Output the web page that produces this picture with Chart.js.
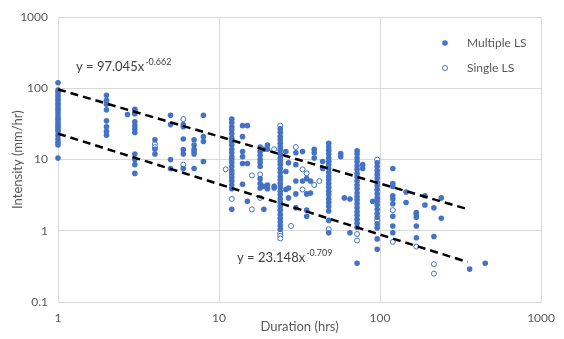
<!DOCTYPE html>
<html>
<head>
<meta charset="utf-8">
<script src="https://cdn.jsdelivr.net/npm/chart.js@4.4.0/dist/chart.umd.min.js"></script>
<style>
  html, body { margin: 0; padding: 0; background: #fff; }
  #wrap { width: 564px; height: 339px; }
</style>
</head>
<body>
<div id="wrap"><canvas id="scatter-chartcanvas" width="564" height="339"></canvas></div>
<script>
// durations (hrs) and the intensities (mm/hr) read at each one
var multiDurations = [1, 2, 2.7, 3, 4, 5, 6, 7, 8, 12, 14, 15, 18, 19, 20, 22, 24, 26, 27, 30, 33, 35, 37, 39, 44, 48, 57, 60, 65, 72, 78, 90, 96, 120, 145, 168, 190, 216, 240, 360, 450];
var multiIntensity = [
    [120, 95, 88, 80, 74, 68, 62, 57, 52, 48, 44, 40, 37, 34, 31, 29, 27, 25, 22, 19.5, 17.5, 16, 10.5],
    [80, 68, 60, 50, 35, 29, 25, 22],
    [43],
    [51, 48, 44, 34, 30, 27, 24, 12, 10, 8.5, 6.4],
    [19, 14, 12],
    [42, 31, 10, 7.5],
    [31, 29, 19.5, 13.8, 12, 7.5],
    [19, 16, 14, 13, 12, 7.5],
    [42, 21, 18, 9.4],
    [37, 33, 29, 26, 23, 20, 18, 16, 14, 12.5, 11, 10, 9, 8, 7, 6.3, 5.6, 5, 4.4, 3.9, 2.0],
    [30, 21, 13, 11, 8.8, 4.5],
    [30, 8.8, 2.6],
    [15, 13, 11.5, 10, 9, 8, 5.4, 4.6, 4.0],
    [14, 4.2, 2.0],
    [16, 14, 4.4, 3.9],
    [4.2, 4.0],
    [27, 24, 21, 19, 17, 15, 13.5, 12, 10.5, 9.5, 8.5, 7.5, 6.6, 5.8, 5.2, 4.6, 4.1, 3.6, 3.2, 2.8, 2.5, 2.2, 1.95, 1.7, 1.5, 1.33, 1.18, 1.05],
    [13, 6.8, 3.8],
    [9, 4.0, 2.9],
    [12.5, 8.5, 5.0, 3.3, 2.1],
    [13, 5.0],
    [5.4, 3.3, 1.95, 1.6],
    [5.0, 3.4],
    [14, 12.5, 10.5],
    [9.4, 7.5],
    [17, 15, 13.5, 12, 10.5, 9.5, 8.5, 7.5, 6.6, 5.8, 5.2, 4.6, 4.1, 3.6, 3.2, 2.8, 2.5, 2.2, 1.9, 1.4, 0.94],
    [12.2, 11],
    [2.9],
    [2.8, 0.94],
    [13.3, 12, 10.5, 9.3, 8.2, 7.3, 6.4, 5.7, 5.0, 4.4, 3.9, 3.4, 3.0, 2.7, 2.4, 2.1, 1.85, 1.65, 1.45, 1.28, 1.12, 0.35],
    [8.5, 7.5],
    [2.6],
    [9, 8, 7, 6.2, 5.5, 4.8, 4.3, 3.8, 3.3, 2.9, 2.6, 2.3, 2.0, 1.75, 1.55, 1.25, 1.1, 0.77, 0.55],
    [7.5, 4.6, 4.2, 3.1, 2.8, 2.4, 1.6, 1.17, 0.94],
    [3.5, 2.5],
    [1.8, 1.7, 1.55, 1.17, 0.8],
    [3.1, 2.3],
    [2.1, 0.83],
    [2.9, 1.5],
    [0.29],
    [0.35]
];

var singleDurations = [4, 6, 11, 12, 16, 18, 22, 24, 28, 30, 33, 35, 39, 42, 48, 72, 96, 120, 168, 216];
var singleIntensity = [
    [16.5, 15],
    [37, 8.5],
    [7.3],
    [2.8],
    [6.0, 2.0],
    [6.2, 2.9],
    [14],
    [30, 0.93, 0.85, 0.78],
    [1.17],
    [15],
    [7.3, 3.8],
    [6.4],
    [4.4],
    [5.0],
    [1.05],
    [0.9, 0.73],
    [10, 1.4],
    [1.95, 0.7],
    [0.6],
    [0.34, 0.25]
];

// power-law trend lines, endpoints from the equations on the chart
var trendX = [1, 350];
var upperTrend = [97.045, 2.01];
var lowerTrend = [23.148, 0.364];

var xTicks = [1, 10, 100, 1000];
var yTicks = [0.1, 1, 10, 100, 1000];

var blue = "#4472C4";
var grey = "#595959";
var gridCol = "#d9d9d9";

function toPoints(durs, vals) {
    var pts = [];
    durs.forEach(function(d, i) {
        vals[i].forEach(function(v) { pts.push({x: d, y: v}); });
    });
    return pts;
}
function trendPoints(ys) {
    return trendX.map(function(x, i) { return {x: x, y: ys[i]}; });
}

// equation labels + legend drawn inside the plot
var overlay = {
    id: "overlay",
    afterDatasetsDraw: function(chart) {
        var c = chart.ctx;
        c.save();
        function eq(base, exp, x, y) {
            c.font = "13px Lato";
            c.fillStyle = "#404040";
            c.textBaseline = "middle";
            c.textAlign = "left";
            c.fillText(base, x, y);
            var w = c.measureText(base).width;
            c.font = "9px Lato";
            c.fillText(exp, x + w + 1, y - 5);
        }
        eq("y = 97.045x", "-0.662", 76, 67);
        eq("y = 23.148x", "-0.709", 237, 258);

        c.font = "12px Lato";
        c.fillStyle = grey;
        c.textBaseline = "middle";
        c.fillText("Multiple LS", 467, 43);
        c.fillText("Single LS", 467, 68);
        c.beginPath();
        c.arc(445, 43, 2.8, 0, Math.PI * 2);
        c.fillStyle = blue;
        c.fill();
        c.beginPath();
        c.arc(445, 68, 2.5, 0, Math.PI * 2);
        c.fillStyle = "#fff";
        c.fill();
        c.lineWidth = 1;
        c.strokeStyle = blue;
        c.stroke();
        c.restore();
    }
};

var ctx = document.getElementById("scatter-chartcanvas");

var data = {
    datasets : [
        {
            type : "line",
            label : "upper trend",
            data : trendPoints(upperTrend),
            borderColor : "#000",
            borderWidth : 2.5,
            borderDash : [8, 5],
            pointRadius : 0,
            fill : false
        },
        {
            type : "line",
            label : "lower trend",
            data : trendPoints(lowerTrend),
            borderColor : "#000",
            borderWidth : 2.5,
            borderDash : [8, 5],
            pointRadius : 0,
            fill : false
        },
        {
            label : "Multiple LS",
            data : toPoints(multiDurations, multiIntensity),
            backgroundColor : blue,
            borderColor : blue,
            borderWidth : 0,
            pointRadius : 2.8,
            clip : false
        },
        {
            label : "Single LS",
            data : toPoints(singleDurations, singleIntensity),
            backgroundColor : "#fff",
            borderColor : blue,
            borderWidth : 1,
            pointRadius : 2.5,
            clip : false
        }
    ]
};

var options = {
    responsive : false,
    animation : false,
    layout : { padding : { left : 0, right : 14, top : 15, bottom : 0 } },
    plugins : {
        legend : { display : false },
        tooltip : { enabled : false }
    },
    scales : {
        x : {
            type : "logarithmic",
            min : 1,
            max : 1000,
            afterBuildTicks : function(s) { s.ticks = xTicks.map(function(v) { return {value: v}; }); },
            afterFit : function(s) { s.height = 37; },
            ticks : {
                color : grey,
                font : { family : "Lato", size : 12 },
                padding : 9,
                maxRotation : 0,
                callback : function(v) { return String(v); }
            },
            grid : { color : gridCol, drawTicks : false },
            border : { color : gridCol },
            title : {
                display : true,
                text : "Duration (hrs)",
                color : grey,
                font : { family : "Lato", size : 13 },
                padding : { top : 0, bottom : 4 }
            }
        },
        y : {
            type : "logarithmic",
            min : 0.1,
            max : 1000,
            afterBuildTicks : function(s) { s.ticks = yTicks.map(function(v) { return {value: v}; }); },
            afterFit : function(s) { s.width = 58; },
            ticks : {
                color : grey,
                font : { family : "Lato", size : 12 },
                padding : 10,
                callback : function(v) { return String(v); }
            },
            grid : { color : gridCol, drawTicks : false },
            border : { color : gridCol },
            title : {
                display : true,
                text : "Intensity (mm/hr)",
                color : grey,
                font : { family : "Lato", size : 13 },
                padding : { top : 10, bottom : 0 }
            }
        }
    }
};

var chart = new Chart(ctx, {
    type : "scatter",
    data : data,
    options : options,
    plugins : [overlay]
});
</script>
</body>
</html>
